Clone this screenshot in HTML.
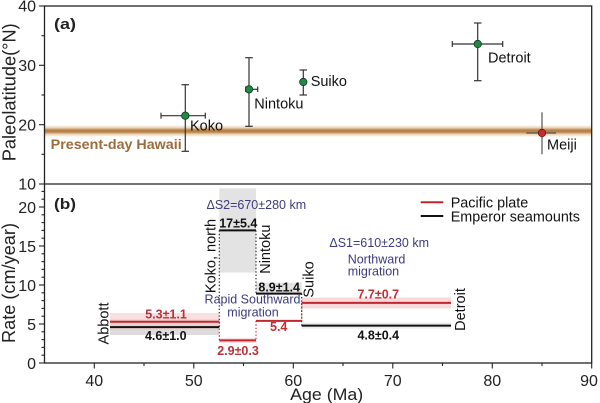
<!DOCTYPE html>
<html><head><meta charset="utf-8"><style>
html,body{margin:0;padding:0;background:#fff;}
svg{display:block;}
text{font-family:"Liberation Sans",Arial,sans-serif;}
</style></head><body>
<svg width="600" height="403" viewBox="0 0 600 403" xmlns="http://www.w3.org/2000/svg">
<defs>
<linearGradient id="hw" x1="0" y1="0" x2="0" y2="1">
<stop offset="0" stop-color="#e8d2b4" stop-opacity="0"/>
<stop offset="0.22" stop-color="#ecd8bc"/>
<stop offset="0.42" stop-color="#b88148"/>
<stop offset="0.58" stop-color="#b88148"/>
<stop offset="0.78" stop-color="#ecd8bc"/>
<stop offset="1" stop-color="#e8d2b4" stop-opacity="0"/>
</linearGradient>
</defs>
<rect width="600" height="403" fill="#fff"/>

<!-- Panel (a) -->
<rect x="45" y="125" width="546.5" height="12" fill="url(#hw)"/>
<text x="50.7" y="149" font-size="13.5" font-weight="bold" fill="#9c6b3c" textLength="131" lengthAdjust="spacingAndGlyphs">Present-day Hawaii</text>

<g stroke="#333" stroke-width="1.2" fill="none">
<!-- Koko -->
<line x1="161" y1="115.7" x2="205.3" y2="115.7"/><line x1="161" y1="112.7" x2="161" y2="118.7"/><line x1="205.3" y1="112.7" x2="205.3" y2="118.7"/>
<line x1="185.3" y1="84.7" x2="185.3" y2="151.3"/><line x1="181.5" y1="84.7" x2="189" y2="84.7"/><line x1="181.5" y1="151.3" x2="189" y2="151.3"/>
<!-- Nintoku -->
<line x1="245.7" y1="89.3" x2="257.7" y2="89.3"/><line x1="245.7" y1="86.5" x2="245.7" y2="92"/><line x1="257.7" y1="86.5" x2="257.7" y2="92"/>
<line x1="249" y1="57.7" x2="249" y2="126.3"/><line x1="245.2" y1="57.7" x2="252.8" y2="57.7"/><line x1="245.2" y1="126.3" x2="252.8" y2="126.3"/>
<!-- Suiko -->
<line x1="303.3" y1="70" x2="303.3" y2="95"/><line x1="299.5" y1="70" x2="307" y2="70"/><line x1="299.5" y1="95" x2="307" y2="95"/>
<!-- Detroit -->
<line x1="452.3" y1="44" x2="502.7" y2="44"/><line x1="452.3" y1="41" x2="452.3" y2="47"/><line x1="502.7" y1="41" x2="502.7" y2="47"/>
<line x1="477.7" y1="23" x2="477.7" y2="80.7"/><line x1="474" y1="23" x2="481.5" y2="23"/><line x1="474" y1="80.7" x2="481.5" y2="80.7"/>
</g>
<g stroke="#555" stroke-width="1.2">
<line x1="526.3" y1="133" x2="556" y2="133"/>
<line x1="542" y1="112.3" x2="542" y2="154.3"/>
</g>
<g fill="#1f8a45" stroke="#16331f" stroke-width="0.8">
<circle cx="185.3" cy="115.7" r="3.7"/>
<circle cx="249" cy="89.3" r="3.7"/>
<circle cx="303.3" cy="82" r="3.7"/>
<circle cx="477.7" cy="44" r="3.7"/>
</g>
<circle cx="542" cy="133" r="3.7" fill="#cf2a30" stroke="#5a1515" stroke-width="0.8"/>

<g font-size="14.5" fill="#111">
<text x="190" y="130.7">Koko</text>
<text x="254.3" y="108.3">Nintoku</text>
<text x="310.7" y="86">Suiko</text>
<text x="488" y="62.7">Detroit</text>
<text x="547" y="149.5">Meiji</text>
</g>
<text x="54" y="29" font-size="15" font-weight="bold" fill="#222" textLength="22" lengthAdjust="spacingAndGlyphs">(a)</text>

<!-- Panel (b) -->
<!-- bands -->
<rect x="110" y="319.3" width="109.3" height="15.7" fill="#dcdcdc"/>
<rect x="110" y="313" width="109.3" height="17" fill="#f7c9cc" fill-opacity="0.6"/>
<rect x="219.3" y="188.3" width="36.7" height="84.2" fill="#e3e3e3"/>
<rect x="219.3" y="338.2" width="36.7" height="4.6" fill="#f8d8da"/>
<rect x="256" y="282.7" width="45.7" height="10.9" fill="#e3e3e3"/>
<rect x="301.7" y="297.5" width="149.3" height="10.9" fill="#f9dadc"/>
<rect x="301.7" y="322.5" width="149.3" height="6.2" fill="#ececec"/>

<!-- dotted connectors -->
<g stroke-width="1.1" stroke-dasharray="1.4 2" fill="none">
<line x1="219.3" y1="230.4" x2="219.3" y2="327.1" stroke="#222"/>
<line x1="219.3" y1="321.7" x2="219.3" y2="340.4" stroke="#c1272d"/>
<line x1="256" y1="230.4" x2="256" y2="293.6" stroke="#222"/>
<line x1="256" y1="320.9" x2="256" y2="340.4" stroke="#c1272d"/>
<line x1="301.7" y1="293.6" x2="301.7" y2="325.6" stroke="#222"/>
<line x1="301.7" y1="302.9" x2="301.7" y2="320.9" stroke="#c1272d"/>
</g>

<!-- lines -->
<g stroke-width="2">
<line x1="110" y1="321.7" x2="219.3" y2="321.7" stroke="#c1272d"/>
<line x1="110" y1="327.1" x2="219.3" y2="327.1" stroke="#111"/>
<line x1="219.3" y1="230.4" x2="256" y2="230.4" stroke="#111"/>
<line x1="219.3" y1="340.4" x2="256" y2="340.4" stroke="#c1272d"/>
<line x1="256" y1="293.6" x2="301.7" y2="293.6" stroke="#111"/>
<line x1="256" y1="320.9" x2="301.7" y2="320.9" stroke="#c1272d"/>
<line x1="301.7" y1="302.9" x2="451" y2="302.9" stroke="#c1272d"/>
<line x1="301.7" y1="325.6" x2="451" y2="325.6" stroke="#111"/>
</g>

<!-- value labels -->
<g font-size="12.5" font-weight="bold" text-anchor="middle">
<text x="166" y="318.3" fill="#b8323a">5.3±1.1</text>
<text x="165.8" y="340" fill="#111">4.6±1.0</text>
<text x="238.3" y="227.3" fill="#111">17±5.4</text>
<text x="238" y="355" fill="#b8323a">2.9±0.3</text>
<text x="279.2" y="291.7" fill="#111">8.9±1.4</text>
<text x="278.7" y="331" fill="#b8323a">5.4</text>
<text x="378.3" y="298.3" fill="#b8323a">7.7±0.7</text>
<text x="378.3" y="339.3" fill="#111">4.8±0.4</text>
</g>

<!-- annotations -->
<g font-size="12.5" fill="#3c3c7c">
<text x="256.3" y="209" text-anchor="middle">ΔS2=670±280 km</text>
<text x="379.2" y="247" text-anchor="middle">ΔS1=610±230 km</text>
<text x="347.7" y="263.3">Northward</text>
<text x="347.7" y="275.7">migration</text>
<text x="252.5" y="303.3" text-anchor="middle">Rapid Southward</text>
<text x="253" y="316.7" text-anchor="middle">migration</text>
</g>

<!-- rotated names -->
<g font-size="14.5" fill="#111" text-anchor="middle">
<text transform="translate(108.3,323.5) rotate(-90)">Abbott</text>
<text transform="translate(215.7,256) rotate(-90)">Koko, north</text>
<text transform="translate(270,249.2) rotate(-90)">Nintoku</text>
<text transform="translate(313.3,279.5) rotate(-90)">Suiko</text>
<text transform="translate(465,309.5) rotate(-90)">Detroit</text>
</g>

<!-- legend -->
<line x1="420.7" y1="202.3" x2="443.3" y2="202.3" stroke="#c1272d" stroke-width="2"/>
<line x1="420.7" y1="216" x2="443.3" y2="216" stroke="#111" stroke-width="2"/>
<g font-size="14.5" fill="#111">
<text x="450.7" y="207.3" textLength="77.6" lengthAdjust="spacingAndGlyphs">Pacific plate</text>
<text x="450.7" y="221.3" textLength="129.3" lengthAdjust="spacingAndGlyphs">Emperor seamounts</text>
</g>

<text x="54" y="209" font-size="15" font-weight="bold" fill="#222" textLength="22" lengthAdjust="spacingAndGlyphs">(b)</text>

<!-- frame -->
<g stroke="#222" stroke-width="1.3" fill="none">
<rect x="44.5" y="6" width="547.2" height="357"/>
<line x1="44.5" y1="184" x2="591.7" y2="184"/>
</g>

<!-- ticks -->
<g stroke="#222" stroke-width="1.1">
<!-- panel a y -->
<line x1="39" y1="6" x2="44.5" y2="6"/>
<line x1="39" y1="65.3" x2="44.5" y2="65.3"/>
<line x1="39" y1="124.7" x2="44.5" y2="124.7"/>
<line x1="39" y1="184" x2="44.5" y2="184"/>
<line x1="41.5" y1="35.7" x2="44.5" y2="35.7"/>
<line x1="41.5" y1="95" x2="44.5" y2="95"/>
<line x1="41.5" y1="154.3" x2="44.5" y2="154.3"/>
<!-- panel b y major -->
<line x1="39" y1="363" x2="44.5" y2="363"/>
<line x1="39" y1="324" x2="44.5" y2="324"/>
<line x1="39" y1="285" x2="44.5" y2="285"/>
<line x1="39" y1="246" x2="44.5" y2="246"/>
<line x1="39" y1="207" x2="44.5" y2="207"/>
<!-- panel b y minor -->
<line x1="41.5" y1="355.2" x2="44.5" y2="355.2"/><line x1="41.5" y1="347.4" x2="44.5" y2="347.4"/><line x1="41.5" y1="339.6" x2="44.5" y2="339.6"/><line x1="41.5" y1="331.8" x2="44.5" y2="331.8"/>
<line x1="41.5" y1="316.2" x2="44.5" y2="316.2"/><line x1="41.5" y1="308.4" x2="44.5" y2="308.4"/><line x1="41.5" y1="300.6" x2="44.5" y2="300.6"/><line x1="41.5" y1="292.8" x2="44.5" y2="292.8"/>
<line x1="41.5" y1="277.2" x2="44.5" y2="277.2"/><line x1="41.5" y1="269.4" x2="44.5" y2="269.4"/><line x1="41.5" y1="261.6" x2="44.5" y2="261.6"/><line x1="41.5" y1="253.8" x2="44.5" y2="253.8"/>
<line x1="41.5" y1="238.2" x2="44.5" y2="238.2"/><line x1="41.5" y1="230.4" x2="44.5" y2="230.4"/><line x1="41.5" y1="222.6" x2="44.5" y2="222.6"/><line x1="41.5" y1="214.8" x2="44.5" y2="214.8"/>
<line x1="41.5" y1="199.2" x2="44.5" y2="199.2"/><line x1="41.5" y1="191.4" x2="44.5" y2="191.4"/>
<!-- x major -->
<line x1="94.3" y1="363" x2="94.3" y2="368.5"/>
<line x1="193.8" y1="363" x2="193.8" y2="368.5"/>
<line x1="293.3" y1="363" x2="293.3" y2="368.5"/>
<line x1="392.8" y1="363" x2="392.8" y2="368.5"/>
<line x1="492.3" y1="363" x2="492.3" y2="368.5"/>
<line x1="591.7" y1="363" x2="591.7" y2="368.5"/>
<!-- x minor -->
<line x1="144" y1="363" x2="144" y2="366"/>
<line x1="243.5" y1="363" x2="243.5" y2="366"/>
<line x1="343" y1="363" x2="343" y2="366"/>
<line x1="442.5" y1="363" x2="442.5" y2="366"/>
<line x1="542" y1="363" x2="542" y2="366"/>
</g>

<!-- tick labels -->
<g font-size="16" fill="#222" text-anchor="end">
<text x="36" y="11.7">40</text>
<text x="36" y="71.2">30</text>
<text x="36" y="130.5">20</text>
<text x="36" y="189.7">10</text>
<text x="36" y="212.8">20</text>
<text x="36" y="251.8">15</text>
<text x="36" y="290.8">10</text>
<text x="36" y="329.8">5</text>
<text x="36" y="368.8">0</text>
</g>
<g font-size="16" fill="#222" text-anchor="middle">
<text x="94.3" y="385.8">40</text>
<text x="193.8" y="385.8">50</text>
<text x="293.3" y="385.8">60</text>
<text x="392.8" y="385.8">70</text>
<text x="492.3" y="385.8">80</text>
<text x="589" y="385.8">90</text>
</g>

<!-- axis titles -->
<text transform="translate(15.5,92.3) rotate(-90)" font-size="18" fill="#222" text-anchor="middle" textLength="138" lengthAdjust="spacingAndGlyphs">Paleolatitude(°N)</text>
<text transform="translate(15,283) rotate(-90)" font-size="18" fill="#222" text-anchor="middle" textLength="120" lengthAdjust="spacingAndGlyphs">Rate (cm/year)</text>
<text x="326.7" y="400" font-size="17" fill="#222" text-anchor="middle" textLength="73" lengthAdjust="spacingAndGlyphs">Age (Ma)</text>
</svg>
</body></html>
